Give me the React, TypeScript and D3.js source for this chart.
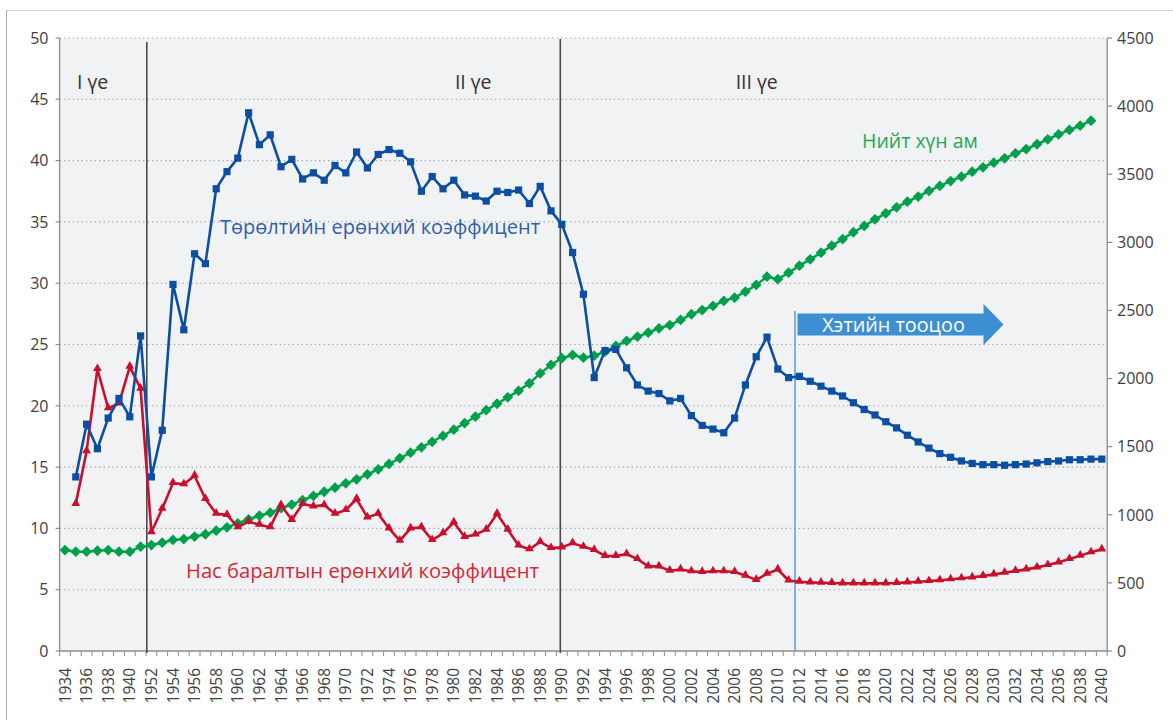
import React from 'react';
import * as d3 from 'd3';

const categories: string[] = [
  '1934','1935','1936','1937','1938','1939','1940','1950',
  ...d3.range(1952, 2041).map(String),
];

const birthRate: (number | null)[] = [
  null, 14.2, 18.5, 16.5, 19.0, 20.6, 19.1, 25.7,
  14.2, 18.0, 29.9, 26.2, 32.4, 31.6, 37.7, 39.1, 40.2, 43.9,
  41.3, 42.1, 39.5, 40.1, 38.5, 39.0, 38.4, 39.6, 39.0, 40.7,
  39.4, 40.5, 40.9, 40.6, 39.9, 37.5, 38.7, 37.7, 38.4, 37.2,
  37.1, 36.7, 37.5, 37.4, 37.6, 36.5, 37.9, 35.9, 34.8, 32.5,
  29.1, 22.3, 24.5, 24.6, 23.1, 21.7, 21.2, 21.0, 20.4, 20.6,
  19.2, 18.4, 18.1, 17.8, 19.0, 21.7, 24.0, 25.6, 23.0, 22.3,
  22.4, 22.0, 21.6, 21.2, 20.8, 20.25, 19.7, 19.25, 18.7, 18.2,
  17.6, 17.05, 16.55, 16.1, 15.8, 15.5, 15.3, 15.2, 15.2, 15.15,
  15.2, 15.25, 15.35, 15.45, 15.5, 15.6, 15.6, 15.65, 15.65,
];

const deathRate: (number | null)[] = [
  null, 12.0, 16.3, 23.0, 19.8, 20.2, 23.2, 21.4,
  9.7, 11.6, 13.7, 13.6, 14.3, 12.4, 11.2, 11.1, 10.1, 10.55,
  10.3, 10.1, 11.9, 10.7, 12.0, 11.8, 11.9, 11.2, 11.5, 12.4,
  10.9, 11.2, 10.0, 9.0, 10.0, 10.1, 9.05, 9.6, 10.5, 9.3,
  9.5, 9.9, 11.2, 9.9, 8.6, 8.3, 8.9, 8.4, 8.45, 8.8,
  8.5, 8.25, 7.75, 7.75, 7.9, 7.5, 6.9, 6.9, 6.55, 6.65,
  6.5, 6.45, 6.5, 6.5, 6.45, 6.15, 5.8, 6.3, 6.65, 5.75,
  5.65, 5.6, 5.57, 5.55, 5.52, 5.52, 5.52, 5.52, 5.52, 5.55,
  5.6, 5.65, 5.71, 5.77, 5.85, 5.93, 6.01, 6.12, 6.25, 6.39,
  6.53, 6.66, 6.82, 7.01, 7.23, 7.5, 7.78, 8.05, 8.29,
];

const population: (number | null)[] = [
  741, 729, 729, 736, 741, 729, 729, 766,
  778, 795, 815, 822, 840, 857, 883, 908, 937, 967,
  993, 1015, 1048, 1075, 1108, 1138, 1169, 1199, 1231, 1260,
  1297, 1334, 1373, 1415, 1456, 1495, 1536, 1580, 1625, 1672,
  1720, 1768, 1815, 1862, 1910, 1965, 2038, 2100, 2149, 2173,
  2153, 2168, 2197, 2239, 2276, 2307, 2337, 2369, 2393, 2430,
  2472, 2503, 2533, 2570, 2594, 2638, 2687, 2748, 2729, 2777,
  2829, 2875, 2924, 2975, 3024, 3074, 3120, 3169, 3213, 3257,
  3298, 3335, 3377, 3414, 3450, 3482, 3519, 3551, 3585, 3617,
  3653, 3685, 3720, 3756, 3793, 3825, 3856, 3893, null,
];

const leftTicks = [0, 5, 10, 15, 20, 25, 30, 35, 40, 45, 50];
const rightTicks = [0, 500, 1000, 1500, 2000, 2500, 3000, 3500, 4000, 4500];

const periodLabels = [
  { text: 'I үе', cat: '1935' },
  { text: 'II үе', cat: '1980' },
  { text: 'III үе', cat: '2006' },
];

const FONT = '"Open Sans", "Noto Sans", sans-serif';
const BLUE = '#0b4ea2';
const RED = '#c8102e';
const GREEN = '#00a04a';

export default function App() {
  const W = 1173, H = 720;
  const left = 59.6, right = 1107.2, top = 38, bottom = 651;
  const x = d3.scaleBand<string>().domain(categories).range([left, right]).padding(0);
  const bw = x.bandwidth();
  const cx = (i: number) => (x(categories[i]) as number) + bw / 2;
  const yL = d3.scaleLinear().domain([0, 50]).range([bottom, top]);
  const yR = d3.scaleLinear().domain([0, 4500]).range([bottom, top]);

  const mkLine = (data: (number | null)[], y: d3.ScaleLinear<number, number>) =>
    d3.line<number | null>()
      .defined((d) => d != null)
      .x((_, i) => cx(i))
      .y((d) => y(d as number))(data) || '';

  const sq = d3.symbol().type(d3.symbolSquare).size(52)() || '';
  const tri = d3.symbol().type(d3.symbolTriangle).size(34)() || '';
  const dia = d3.symbol().type(d3.symbolSquare).size(58)() || '';

  const line1X = (x('1952') as number) + 0.8;
  const line2X = cx(categories.indexOf('1990')) - 1.5;
  const projX = (x('2012') as number) + 1;

  const arrowY = 324.5;
  const arrowX0 = projX + 2.5;
  const arrowBodyEnd = arrowX0 + 186;
  const arrowTip = arrowBodyEnd + 20;
  const arrowPts = [
    [arrowX0, arrowY - 11], [arrowBodyEnd, arrowY - 11], [arrowBodyEnd, arrowY - 20.5],
    [arrowTip, arrowY], [arrowBodyEnd, arrowY + 20.5], [arrowBodyEnd, arrowY + 11],
    [arrowX0, arrowY + 11],
  ].map((p) => p.join(',')).join(' ');

  return (
    <svg width={W} height={H} style={{ position: 'absolute', left: 0, top: 0, background: '#fff' }}
      fontFamily={FONT}>
      <rect x={0} y={0} width={W} height={H} fill="#fff" />
      <line x1={6.5} y1={10} x2={6.5} y2={H} stroke="#b0b0b0" strokeWidth={1} />
      <line x1={6.5} y1={10.5} x2={W} y2={10.5} stroke="#d0d0d0" strokeWidth={1} />
      <rect x={left} y={top} width={right - left} height={bottom - top} fill="#f1f2f4" />

      {leftTicks.filter((t) => t > 0).map((t) => (
        <line key={'g' + t} x1={left} x2={right} y1={yL(t)} y2={yL(t)}
          stroke="#9a9a9a" strokeWidth={1.1} strokeDasharray="1.2 3.2" />
      ))}

      <line x1={left} x2={left} y1={top} y2={bottom} stroke="#8c8c8c" strokeWidth={1.3} />
      <line x1={right} x2={right} y1={top} y2={bottom} stroke="#8c8c8c" strokeWidth={1.3} />
      <line x1={left} x2={right} y1={bottom} y2={bottom} stroke="#8c8c8c" strokeWidth={1.3} />
      {leftTicks.map((t) => (
        <g key={'l' + t}>
          <line x1={left - 4} x2={left} y1={yL(t)} y2={yL(t)} stroke="#8c8c8c" strokeWidth={1.2} />
          <text x={48.5} y={yL(t)} dy="0.36em" textAnchor="end" fontSize={16} fill="#404040">{t}</text>
        </g>
      ))}
      {rightTicks.map((t) => (
        <g key={'r' + t}>
          <line x1={right} x2={right + 5} y1={yR(t)} y2={yR(t)} stroke="#8c8c8c" strokeWidth={1.2} />
          <text x={1117} y={yR(t)} dy="0.36em" textAnchor="start" fontSize={16} fill="#404040">{t}</text>
        </g>
      ))}
      {categories.map((c) => (
        <line key={'t' + c} x1={x(c) as number} x2={x(c) as number} y1={bottom} y2={bottom + 5}
          stroke="#8c8c8c" strokeWidth={1} />
      ))}
      <line x1={right} x2={right} y1={bottom} y2={bottom + 5} stroke="#8c8c8c" strokeWidth={1} />
      {categories.map((c, i) => (i % 2 === 0 ? (
        <text key={'x' + c} transform={`translate(${cx(i)},${668}) rotate(-90)`}
          dy="0.36em" textAnchor="end" fontSize={15.5} fill="#404040">{c}</text>
      ) : null))}

      <line x1={line1X} x2={line1X} y1={42} y2={bottom + 2} stroke="#4a4a4a" strokeWidth={1.6} />
      <line x1={line2X} x2={line2X} y1={39} y2={bottom + 2} stroke="#4a4a4a" strokeWidth={1.6} />
      {periodLabels.map((p) => (
        <text key={p.text} x={(x(p.cat) as number) + bw * 0.6} y={89} fontSize={19.5} fill="#333">{p.text}</text>
      ))}

      <line x1={projX} x2={projX} y1={311} y2={bottom} stroke="#5b9bd5" strokeWidth={1.5} />
      <polygon points={arrowPts} fill="#3d8fd4" />
      <text x={arrowX0 + 96} y={331.5} textAnchor="middle" fontSize={19.8} fill="#fff">Хэтийн тооцоо</text>

      <path d={mkLine(population, yR)} fill="none" stroke={GREEN} strokeWidth={2.5} />
      {population.map((d, i) => d == null ? null : (
        <path key={'p' + i} d={dia} transform={`translate(${cx(i)},${yR(d)}) rotate(45)`} fill={GREEN} />
      ))}
      <path d={mkLine(deathRate, yL)} fill="none" stroke={RED} strokeWidth={2.6} strokeLinejoin="round" />
      {deathRate.map((d, i) => d == null ? null : (
        <path key={'d' + i} d={tri} transform={`translate(${cx(i)},${yL(d) - 0.5})`} fill={RED} />
      ))}
      <path d={mkLine(birthRate, yL)} fill="none" stroke={BLUE} strokeWidth={2.6} strokeLinejoin="round" />
      {birthRate.map((d, i) => d == null ? null : (
        <path key={'b' + i} d={sq} transform={`translate(${cx(i)},${yL(d)})`} fill={BLUE} />
      ))}

      <text x={220} y={234} fontSize={20} fill="#2f5fae">Төрөлтийн ерөнхий коэффицент</text>
      <text x={186} y={577.5} fontSize={20.2} fill="#d42a36">Нас баралтын ерөнхий коэффицент</text>
      <text x={862} y={148} fontSize={19.5} fill="#1fa85a">Нийт хүн ам</text>
    </svg>
  );
}
